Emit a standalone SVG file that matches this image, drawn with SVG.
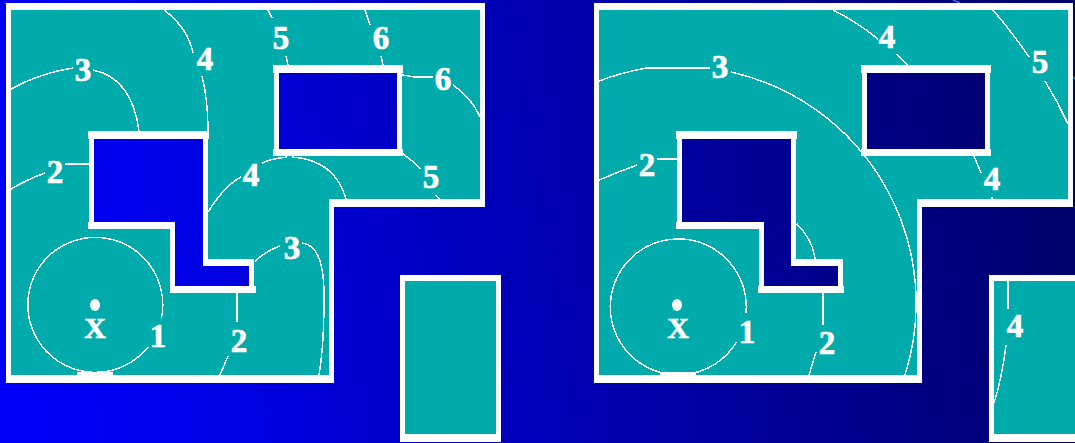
<svg xmlns="http://www.w3.org/2000/svg" width="1075" height="443" viewBox="0 0 1075 443">
<style>
.w{fill:#fff;shape-rendering:crispEdges}
.t{fill:#02abab;shape-rendering:crispEdges}
.h{fill:url(#bg);shape-rendering:crispEdges}
.c{fill:none;stroke:#fff;stroke-width:1.5;shape-rendering:crispEdges}
.n{font-family:"Liberation Serif",serif;font-weight:bold;font-size:33px;fill:#fff;text-anchor:middle;stroke:#fff;stroke-width:.7}
.x{font-size:30px}
</style>
<defs>
<linearGradient id="bg" gradientUnits="userSpaceOnUse" x1="0" y1="330" x2="1075" y2="150">
<stop offset="0" stop-color="#0000f8"/>
<stop offset=".15" stop-color="#0000ec"/>
<stop offset=".45" stop-color="#0000bc"/>
<stop offset=".7" stop-color="#000096"/>
<stop offset="1" stop-color="#00006a"/>
</linearGradient>
</defs>
<rect id="background" width="1075" height="443" fill="url(#bg)"/>
<path d="M953 0l7 3M1073 77l2 2" stroke="#3a6cf0" stroke-width="1.5" fill="none"/>
<g id="left-plan">
<polygon class="w" points="6,3 485,3 485,207 334,207 334,383 6,383"/>
<polygon class="t" points="11,10 480,10 480,199 329,199 329,375 11,375"/>
<polygon class="w" points="88,131 209,131 209,139 208,139 208,259 254,259 254,286 256,286 256,293 170,293 170,229 88,229 88,222 89,222 89,139 88,139"/>
<polygon class="h" points="94,139 203,139 203,266 249,266 249,286 175,286 175,222 94,222"/>
<polygon class="w" points="273,65 403,65 403,73 402,73 402,149 403,149 403,156 273,156 273,149 274,149 274,73 273,73"/>
<rect class="h" x="279" y="73" width="118" height="76"/>
<rect class="w" x="400" y="275" width="101" height="167"/>
<rect class="t" x="405" y="281" width="91" height="153"/>
<rect class="w" x="77" y="372" width="36" height="3"/>
</g>
<g id="left-contours">
<path class="c" d="M161.5 318A67.5 67.5 0 1 0 148 347"/>
<path class="c" d="M11 89Q40 73 73 68M93 70Q132 78 139 131"/>
<path class="c" d="M11 189Q28 179 45 173M65 164H89"/>
<path class="c" d="M164 10Q188 28 193 53M202 76Q208 100 208 131"/>
<path class="c" d="M268 10L272 18M286 56L288 65M365 10L370 25M381 56L383 65"/>
<path class="c" d="M402 75L415 77H433M453 85Q472 98 480 117"/>
<path class="c" d="M403 154Q413 161 421 169M436 195L439 199"/>
<path class="c" d="M208 212Q225 185 241 177M262 163Q270 159 287 157M292 157Q335 160 346 199"/>
<path class="c" d="M237 293V322M228 356L220 375"/>
<path class="c" d="M255 261Q268 250 280 246M302 243Q325 245 324 300Q324 345 319 375"/>
</g>
<g id="left-labels">
<ellipse cx="95" cy="305" rx="5" ry="6" fill="#fff"/>
<text class="n x" x="95" y="338">X</text>
<text class="n" x="158" y="347">1</text>
<text class="n" x="239" y="352">2</text>
<text class="n" x="292" y="259">3</text>
<text class="n" x="55" y="183">2</text>
<text class="n" x="83" y="81">3</text>
<text class="n" x="205" y="70">4</text>
<text class="n" x="281" y="49">5</text>
<text class="n" x="381" y="49">6</text>
<text class="n" x="443" y="90">6</text>
<text class="n" x="251" y="186">4</text>
<text class="n" x="431" y="188">5</text>
</g>
<g id="right-plan">
<polygon class="w" points="594,3 1073,3 1073,207 922,207 922,383 594,383"/>
<polygon class="t" points="599,10 1068,10 1068,199 917,199 917,375 599,375"/>
<polygon class="w" points="676,131 797,131 797,139 796,139 796,259 843,259 843,286 844,286 844,293 758,293 758,286 759,286 759,229 676,229 676,222 677,222 677,139 676,139"/>
<polygon class="h" points="682,139 791,139 791,266 838,266 838,286 764,286 764,222 682,222"/>
<polygon class="w" points="861,65 991,65 991,73 990,73 990,149 991,149 991,156 861,156 861,149 862,149 862,73 861,73"/>
<rect class="h" x="867" y="73" width="118" height="76"/>
<rect class="w" x="989" y="275" width="86" height="167"/>
<rect class="t" x="994" y="281" width="81" height="153"/>
<rect class="w" x="660" y="372" width="36" height="3"/>
</g>
<g id="right-contours">
<path class="c" d="M746 313A68 68 0 1 0 736.5 342"/>
<path class="c" d="M599 81Q620 73 646 68H710M731 72A237 237 0 0 1 905 375"/>
<path class="c" d="M599 180Q618 172 637 165M657 159H677"/>
<path class="c" d="M833 10Q857 22 878 39M897 54L907 65"/>
<path class="c" d="M993 10Q1012 32 1029 57M1045 81Q1058 102 1068 124"/>
<path class="c" d="M974 156L981 173M992 197V199"/>
<path class="c" d="M797 224Q813 240 815 259"/>
<path class="c" d="M823 293V325M816 352L809 375"/>
<path class="c" d="M1008 281V309M1006 345Q1002 378 994 403"/>
</g>
<g id="right-labels">
<ellipse cx="677" cy="305" rx="5" ry="6" fill="#fff"/>
<text class="n x" x="678" y="338">X</text>
<text class="n" x="747" y="343">1</text>
<text class="n" x="827" y="354">2</text>
<text class="n" x="720" y="78">3</text>
<text class="n" x="647" y="176">2</text>
<text class="n" x="887" y="48">4</text>
<text class="n" x="1040" y="73">5</text>
<text class="n" x="992" y="190">4</text>
<text class="n" x="1015" y="337">4</text>
</g>
</svg>
